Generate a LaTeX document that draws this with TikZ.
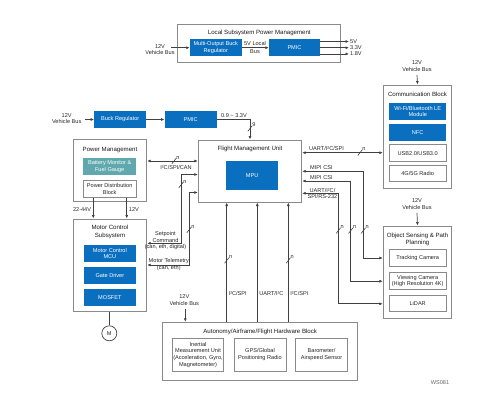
\documentclass[tikz,border=0pt]{standalone}
\usepackage{fontspec}
\setmainfont{Liberation Sans}
\usepackage{xcolor}
\usepackage{tikz}
\usetikzlibrary{arrows.meta, positioning, calc}

\definecolor{tiblue}{HTML}{0B6FC0}
\definecolor{titeal}{HTML}{5FA8AE}
\definecolor{boxgray}{HTML}{8A8A8A}
\definecolor{linegray}{HTML}{404040}

\tikzset{
  txt/.style={font=\fontsize{5.6}{6.6}\selectfont, align=center, text=black!85},
  ttl/.style={font=\fontsize{6.1}{7.2}\selectfont, align=center, text=black!90},
  outerbox/.style={draw=boxgray, line width=1pt, fill=white, inner sep=0pt},
  bluebox/.style={fill=tiblue, text=white, inner sep=1pt, align=center,
    font=\fontsize{5.6}{6.6}\selectfont},
  tealbox/.style={bluebox, fill=titeal},
  whitebox/.style={draw=boxgray, line width=0.8pt, fill=white, inner sep=1pt, txt},
  conn/.style={draw=linegray, line width=0.7pt, -{Latex[length=3.5pt,width=3pt]}},
  dconn/.style={conn, {Latex[length=3.5pt,width=3pt]}-{Latex[length=3.5pt,width=3pt]}},
  pics/buswidth/.style={code={
    \draw[linegray, line width=0.6pt] (-2.2,2.8) -- (2.2,-2.8);
    \node[txt, anchor=south west, inner sep=0.5pt] at (1.6,-1.2) {#1};
  }}
}

\begin{document}
\begin{tikzpicture}[x=1pt, y=-1pt]
    \useasboundingbox (0,0) rectangle (496,402);

    % Local subsystem power management
    \node[outerbox, minimum width=163.3pt, minimum height=38pt] (lsp) at (259.3,43) {};
    \node[ttl] (lsptitle) at (259.3,32.7) {Local Subsystem Power Management};
    \node[bluebox, minimum width=51.7pt, minimum height=16.7pt] (buckml) at (215.8,47.7) {Multi-Output Buck\\Regulator};
    \node[bluebox, minimum width=51pt, minimum height=16.7pt] (pmicl) at (294.5,47.7) {PMIC};
    \node[txt] (vb1) at (160,49.7) {12V\\Vehicle Bus};
    \coordinate (vb1end) at (171,47.7);
    \draw[conn] (vb1end) -- (buckml.west);
    \draw[conn] (buckml) -- (pmicl);
    \node[txt, font=\fontsize{5.6}{7.8}\selectfont] (lbus) at (255,47.8) {5V Local\\Bus};
    \foreach \y/\v/\n in {41.5/5V/o5, 47.7/3.3V/o33, 53.9/1.8V/o18} {
        \node[txt, anchor=west, inner sep=1pt] (\n) at (349,\y) {\v};
        \draw[conn] (pmicl.east |- \n) -- (\n.west);
    }

    % Communication block
    \node[outerbox, minimum width=68.4pt, minimum height=103.3pt] (comm) at (417.5,136.7) {};
    \node[ttl] (commtitle) at (417.5,94.7) {Communication Block};
    \node[bluebox, minimum width=56.7pt, minimum height=17.5pt] (wifi) at (417.7,111.5) {Wi-Fi/Bluetooth LE\\Module};
    \node[bluebox, minimum width=56.7pt, minimum height=17.3pt] (nfc) at (417.7,132.4) {NFC};
    \node[whitebox, minimum width=56.7pt, minimum height=16.5pt] (usb) at (417.7,153) {USB2.0/USB3.0};
    \node[whitebox, minimum width=56.7pt, minimum height=16.5pt] (radio) at (417.7,173.6) {4G/5G Radio};
    \node[txt] (vb3) at (417,66) {12V\\Vehicle Bus};
    \draw[conn] (vb3.south) -- (comm.north);

    % Buck regulator row
    \node[txt] (vb2) at (66.7,118.7) {12V\\Vehicle Bus};
    \node[bluebox, minimum width=51.7pt, minimum height=16.4pt] (buck) at (120.2,119.5) {Buck Regulator};
    \node[bluebox, minimum width=52pt, minimum height=16.4pt] (pmicb) at (190.7,119.5) {PMIC};
    \draw[conn] (vb2.east |- buck) -- (buck.west);
    \draw[conn] (buck) -- (pmicb);

    % Flight management unit
    \node[outerbox, minimum width=103.4pt, minimum height=62pt] (fmu) at (250,171) {};
    \node[ttl] (fmutitle) at (250,149.3) {Flight Management Unit};
    \node[bluebox, minimum width=52.3pt, minimum height=29.3pt] (mpu) at (252.2,175.3) {MPU};
    \draw[conn] (pmicb.east) -| (fmu.north);
    \node[txt, anchor=south west, inner sep=1pt] (rails) at ($(pmicb.east)+(3,-1)$) {0.9 \textasciitilde{} 3.3V};
    \pic at (250,128.5) {buswidth=9};

    % Power management
    \node[outerbox, minimum width=73.4pt, minimum height=61.7pt] (pm) at (110,170.8) {};
    \node[ttl] (pmtitle) at (110,150) {Power Management};
    \node[tealbox, minimum width=52.7pt, minimum height=17.3pt] (bat) at (109.7,166.3) {Battery Monitor \&\\Fuel Gauge};
    \node[whitebox, minimum width=52.7pt, minimum height=16.6pt] (pd) at (109.7,189) {Power Distribution\\Block};

    % Motor control subsystem
    \node[outerbox, minimum width=73.4pt, minimum height=92pt] (mc) at (110,265) {};
    \node[ttl] (mctitle) at (110,232) {Motor Control\\Subsystem};
    \node[bluebox, minimum width=51.7pt, minimum height=16.7pt] (mcu) at (109.9,253.3) {Motor Control\\MCU};
    \node[bluebox, minimum width=51.7pt, minimum height=16.7pt] (gate) at (109.9,275.7) {Gate Driver};
    \node[bluebox, minimum width=51.7pt, minimum height=16.7pt] (mosfet) at (109.9,297.7) {MOSFET};
    \node[draw=linegray, line width=0.7pt, circle, minimum size=15pt, inner sep=0pt, txt] (motor) at (109.3,333.3) {M};
    \draw[linegray, line width=0.7pt] (motor.north |- mc.south) -- (motor.north);
    \draw[conn] (93.3,0 |- pd.south) -- (93.3,0 |- mc.north);
    \draw[conn] (126.7,0 |- pd.south) -- (126.7,0 |- mc.north);
    \node[txt, anchor=east, inner sep=1pt] (v2244) at (92.3,210) {22-44V};
    \node[txt, anchor=west, inner sep=1pt] (v12m) at (127.7,210) {12V};

    % FMU <-> power / motor links
    \draw[dconn] (pm.east |- 0,161) -- (fmu.west |- 0,161);
    \node[txt, inner sep=1pt] (i2ccan) at (176,167.3) {I²C/SPI/CAN};
    \pic at (174,161) {buswidth=n};
    \draw[dconn] (mc.east |- 0,243.3) -| (181,174.5) -- (fmu.west |- 0,174.5);
    \pic at (181,185) {buswidth=n};
    \node[txt, font=\fontsize{5.6}{6.7}\selectfont] (setpt) at (165.5,240.8) {Setpoint\\Command\\(can, eth, digital)};
    \draw[dconn] (mc.east |- 0,265) -| (189,192.5) -- (fmu.west |- 0,192.5);
    \pic at (189,230) {buswidth=n};
    \node[txt, font=\fontsize{5.6}{7.6}\selectfont] (telem) at (168.8,264.6) {Motor Telemetry\\(can, eth)};

    % Object sensing and path planning
    \node[outerbox, minimum width=68.4pt, minimum height=92.3pt] (obj) at (417.5,272.2) {};
    \node[ttl, font=\fontsize{6.1}{6.2}\selectfont] (objtitle) at (417.5,239.5) {Object Sensing \& Path\\Planning};
    \node[whitebox, minimum width=56.7pt, minimum height=17.5pt] (track) at (417.7,258) {Tracking Camera};
    \node[whitebox, minimum width=56.7pt, minimum height=17.3pt] (view) at (417.7,281.2) {Viewing Camera\\(High Resolution 4K)};
    \node[whitebox, minimum width=56.7pt, minimum height=16pt] (lidar) at (417.7,303.8) {LiDAR};
    \node[txt] (vb4) at (417,204) {12V\\Vehicle Bus};
    \draw[conn] (vb4.south) -- (obj.north);

    % FMU <-> comm / sensing links
    \draw[dconn] (fmu.east |- 0,152.7) -- (comm.west |- 0,152.7);
    \node[txt, anchor=south west, inner sep=1pt] (uart1) at (308,152.2) {UART/I²C/SPI};
    \pic at (360,152.7) {buswidth=n};
    \draw[dconn] (fmu.east |- 0,171.3) -| (363.3,0 |- track) -- (obj.west |- track);
    \node[txt, anchor=south west, inner sep=1pt] (mipi1) at (309,170.8) {MIPI CSI};
    \draw[dconn] (fmu.east |- 0,181) -| (350.7,0 |- view) -- (obj.west |- view);
    \node[txt, anchor=south west, inner sep=1pt] (mipi2) at (309,180.5) {MIPI CSI};
    \draw[dconn] (fmu.east |- 0,193.3) -| (338.3,0 |- lidar) -- (obj.west |- lidar);
    \node[txt, anchor=west, inner sep=1pt, font=\fontsize{5.6}{6.4}\selectfont] (uart2) at (306.5,193.2) {UART/I²C/\\SPI/RS-232};
    \foreach \x in {338.3, 350.7, 363.3} {
        \pic at (\x,230.7) {buswidth=n};
    }

    % Autonomy / airframe / flight hardware block
    \node[outerbox, minimum width=195pt, minimum height=58.4pt] (auto) at (260.2,351.5) {};
    \node[ttl] (autotitle) at (260.2,332.3) {Autonomy/Airframe/Flight Hardware Block};
    \node[whitebox, minimum width=50.6pt, minimum height=32.7pt] (imu) at (198,354.7) {Inertial\\Measurement Unit\\(Acceleration, Gyro,\\Magnetometer)};
    \node[whitebox, minimum width=52pt, minimum height=32.7pt] (gps) at (260,354.7) {GPS/Global\\Positioning Radio};
    \node[whitebox, minimum width=51.6pt, minimum height=32.7pt] (baro) at (321.5,354.7) {Barometer/\\Airspeed Sensor};
    \node[txt] (vb5) at (184.3,300.3) {12V\\Vehicle Bus};
    \draw[conn] (185.3,0 |- vb5.south) -- (185.3,0 |- auto.north);
    \foreach \x/\l/\n in {226.7/{I²C/SPI}/bl1, 257.3/{UART/I²C}/bl2, 288.3/{I²C/SPI}/bl3} {
        \draw[conn] (\x,0 |- auto.north) -- (\x,0 |- fmu.south);
        \node[txt, anchor=west, inner sep=1pt] (\n) at (\x+0.8,293.3) {\l};
    }
    \pic at (226.7,260.5) {buswidth=n};
    \pic at (288.3,260.5) {buswidth=n};

    \node[txt, text=black!60] (ws) at (440,383) {WS081};
\end{tikzpicture}
\end{document}
